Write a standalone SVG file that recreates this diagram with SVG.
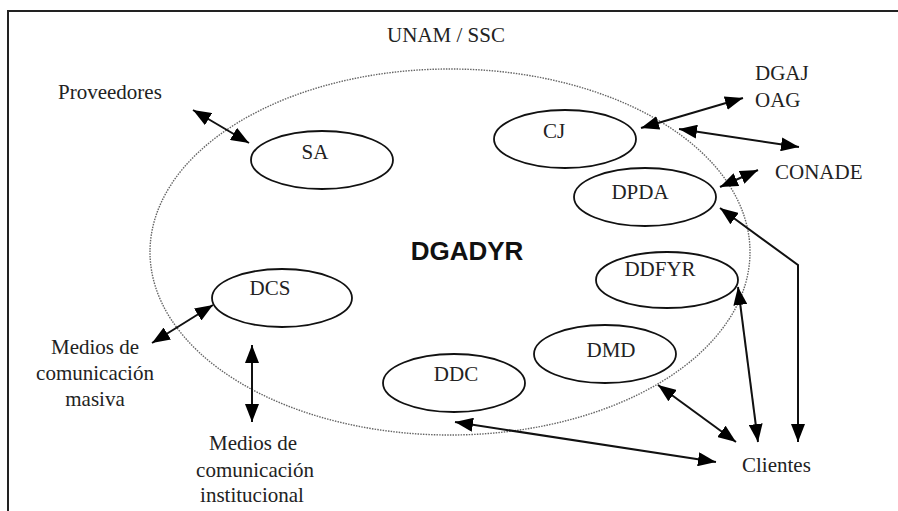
<svg xmlns="http://www.w3.org/2000/svg" width="898" height="511" viewBox="0 0 898 511">
  <style>
    .frame { fill: none; stroke: #222; stroke-width: 2; }
    .scope { fill: none; stroke: #666; stroke-width: 1.4; stroke-dasharray: 1.5 1.2; }
    .unit { fill: #fff; stroke: #111; stroke-width: 1.8; }
    .lbl { font-family: "Liberation Serif", "Times New Roman", serif; font-size: 21px; fill: #222; }
    .mid { text-anchor: middle; }
    .title { font-family: "Liberation Sans", Arial, sans-serif; font-size: 26px; font-weight: bold; fill: #111; text-anchor: middle; }
    .link { fill: none; stroke: #111; stroke-width: 2; marker-start: url(#head); marker-end: url(#head); }
  </style>
  <defs>
    <marker id="head" viewBox="0 0 18 14" refX="18" refY="7" markerWidth="18" markerHeight="14" markerUnits="userSpaceOnUse" orient="auto-start-reverse">
      <path d="M0,0 L18,7 L0,14 z" fill="#000"/>
    </marker>
  </defs>

  <rect width="898" height="511" fill="#fff"/>
  <!-- outer frame (open to the right and bottom) -->
  <path class="frame" d="M8,515 V11 H900"/>
  <text class="lbl mid" x="446" y="42">UNAM / SSC</text>

  <!-- organisation boundary -->
  <g id="dgadyr">
    <ellipse class="scope" cx="450" cy="252" rx="300" ry="183"/>
    <text class="title" x="467" y="260">DGADYR</text>
  </g>

  <!-- internal units -->
  <g id="sa">
    <ellipse class="unit" cx="322" cy="160" rx="71" ry="29"/>
    <text class="lbl mid" x="315" y="159">SA</text>
  </g>
  <g id="cj">
    <ellipse class="unit" cx="565" cy="139" rx="71" ry="29"/>
    <text class="lbl mid" x="554" y="138">CJ</text>
  </g>
  <g id="dpda">
    <ellipse class="unit" cx="645" cy="197" rx="71" ry="29"/>
    <text class="lbl mid" x="640" y="199">DPDA</text>
  </g>
  <g id="ddfyr">
    <ellipse class="unit" cx="667" cy="280" rx="71" ry="28"/>
    <text class="lbl mid" x="660" y="276">DDFYR</text>
  </g>
  <g id="dmd">
    <ellipse class="unit" cx="605" cy="354" rx="71" ry="29"/>
    <text class="lbl mid" x="611" y="357">DMD</text>
  </g>
  <g id="ddc">
    <ellipse class="unit" cx="454" cy="383" rx="71" ry="29"/>
    <text class="lbl mid" x="456" y="381">DDC</text>
  </g>
  <g id="dcs">
    <ellipse class="unit" cx="282" cy="298" rx="70" ry="29"/>
    <text class="lbl mid" x="270" y="295">DCS</text>
  </g>

  <!-- external parties -->
  <g id="proveedores">
    <text class="lbl" x="58" y="99">Proveedores</text>
  </g>
  <g id="dgaj-oag">
    <text class="lbl" x="755" y="80">DGAJ</text>
    <text class="lbl" x="755" y="107">OAG</text>
  </g>
  <g id="conade">
    <text class="lbl" x="775" y="179">CONADE</text>
  </g>
  <g id="clientes">
    <text class="lbl" x="742" y="472">Clientes</text>
  </g>
  <g id="medios-masiva">
    <text class="lbl mid" x="95" y="354">Medios de</text>
    <text class="lbl mid" x="95" y="380">comunicación</text>
    <text class="lbl mid" x="95" y="406">masiva</text>
  </g>
  <g id="medios-institucional">
    <text class="lbl mid" x="253" y="450">Medios de</text>
    <text class="lbl mid" x="255" y="477">comunicación</text>
    <text class="lbl mid" x="252" y="502">institucional</text>
  </g>

  <!-- two-way relations -->
  <g id="connectors">
    <line class="link" x1="193" y1="110" x2="249" y2="143"/>
    <line class="link" x1="641" y1="128" x2="743" y2="98"/>
    <line class="link" x1="679" y1="129" x2="799" y2="147"/>
    <line class="link" x1="720" y1="187" x2="758" y2="170"/>
    <polyline class="link" points="720,208 798,265 798,442"/>
    <line class="link" x1="738" y1="287" x2="758" y2="442"/>
    <line class="link" x1="658" y1="385" x2="736" y2="442"/>
    <line class="link" x1="455" y1="422" x2="716" y2="462"/>
    <line class="link" x1="152" y1="343" x2="213" y2="305"/>
    <line class="link" x1="252" y1="345" x2="252" y2="422"/>
  </g>
</svg>
